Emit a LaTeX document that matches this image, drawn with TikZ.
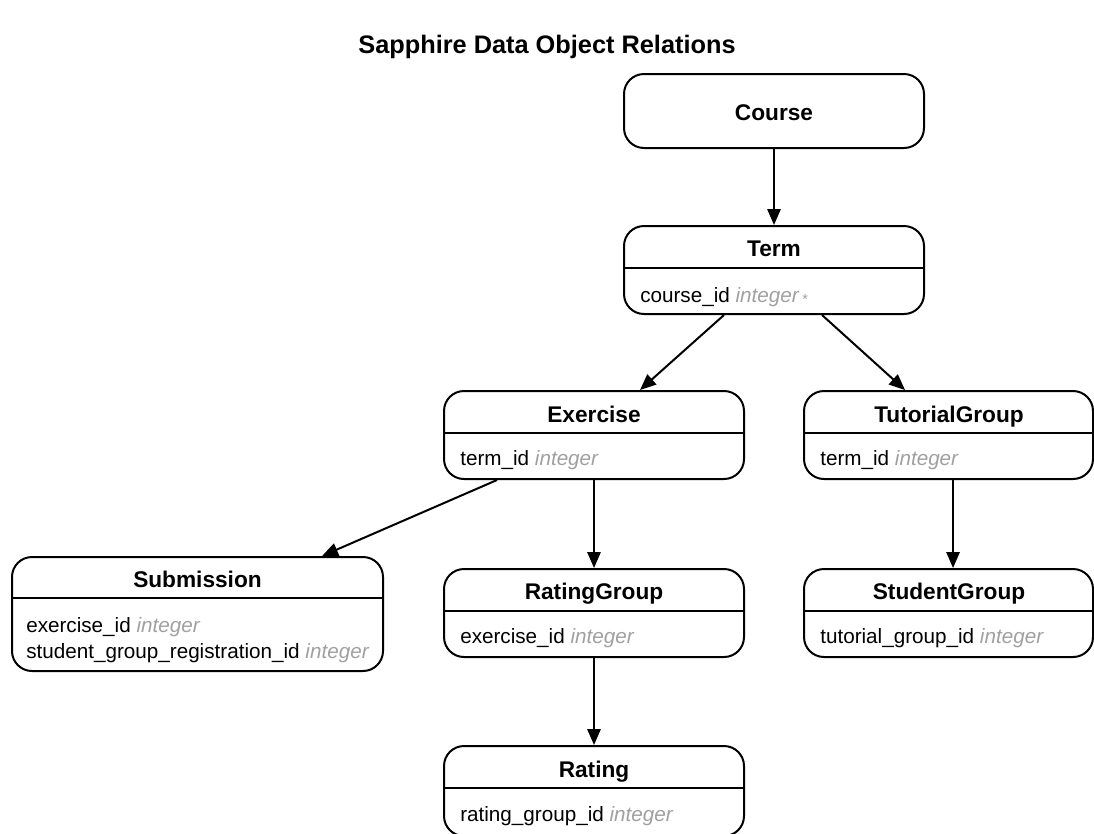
\documentclass[tikz,border=0pt]{standalone}
\usepackage{fontspec}
\setmainfont{Liberation Sans}
\usetikzlibrary{arrows.meta}
\definecolor{typegray}{RGB}{160,160,160}
\newcommand{\dtype}[1]{{\color{typegray}\itshape #1}}
\newcommand{\reqmark}{\,{\color{typegray}\fontsize{11}{11}\selectfont\raisebox{-1.8pt}{*}}}
\tikzset{
  entity/.style={draw, line width=1.5pt, rounded corners=15pt, minimum width=225pt, minimum height=66pt, inner sep=0pt},
  enttitle/.style={anchor=base, inner sep=0pt, font=\bfseries\fontsize{17}{20}\selectfont},
  field/.style={anchor=base west, inner sep=0pt, font=\fontsize{15.5}{18}\selectfont},
  divider/.style={line width=1.5pt},
  link/.style={line width=1.5pt, -{Triangle[length=12pt,width=10pt]}}
}
\begin{document}
\begin{tikzpicture}[x=0.75pt,y=-0.75pt]
\useasboundingbox (0,0) rectangle (1094,833);
\clip (0,0) rectangle (1094,833);

\node[inner sep=0pt, font=\bfseries\fontsize{19}{24}\selectfont] (heading) at (547,47) {Sapphire Data Object Relations};

\node[entity, minimum height=55.5pt] (course) at (774,111) {};
\node[inner sep=0pt, font=\bfseries\fontsize{17}{20}\selectfont] (course-t) at (774,113) {Course};

\node[entity] (term) at (774,270) {};
\node[enttitle] (term-t) at (774,256) {Term};
\draw[divider] (624,268) -- (924,268);
\node[field] (term-f1) at (640,302) {course\_id \dtype{integer}\reqmark};

\node[entity] (exercise) at (594,435) {};
\node[enttitle] (exercise-t) at (594,422) {Exercise};
\draw[divider] (444,433) -- (744,433);
\node[field] (exercise-f1) at (460,465) {term\_id \dtype{integer}};

\node[entity, minimum width=216.75pt] (tutorialgroup) at (948.5,435) {};
\node[enttitle] (tutorialgroup-t) at (949,422) {TutorialGroup};
\draw[divider] (804,433) -- (1093,433);
\node[field] (tutorialgroup-f1) at (820,465) {term\_id \dtype{integer}};

\node[entity, minimum width=278.25pt, minimum height=85.5pt] (submission) at (197.5,614) {};
\node[enttitle] (submission-t) at (197.5,587) {Submission};
\draw[divider] (12,598) -- (383,598);
\node[field] (submission-f1) at (26,632) {exercise\_id \dtype{integer}};
\node[field] (submission-f2) at (26,658) {student\_group\_registration\_id \dtype{integer}};

\node[entity] (ratinggroup) at (594,613) {};
\node[enttitle] (ratinggroup-t) at (594,599) {RatingGroup};
\draw[divider] (444,611) -- (744,611);
\node[field] (ratinggroup-f1) at (460,643) {exercise\_id \dtype{integer}};

\node[entity, minimum width=216.75pt] (studentgroup) at (948.5,613) {};
\node[enttitle] (studentgroup-t) at (949,599) {StudentGroup};
\draw[divider] (804,611) -- (1093,611);
\node[field] (studentgroup-f1) at (820,643) {tutorial\_group\_id \dtype{integer}};

\node[entity, minimum height=67.5pt] (rating) at (594,791) {};
\node[enttitle] (rating-t) at (594,777) {Rating};
\draw[divider] (444,788) -- (744,788);
\node[field] (rating-f1) at (460,821) {rating\_group\_id \dtype{integer}};

\draw[link] (course) -- (term);
\draw[link] ([xshift=-37.5pt]term.south) -- ([xshift=34.5pt]exercise.north);
\draw[link] ([xshift=36pt]term.south) -- ([xshift=-32.6pt]tutorialgroup.north);
\draw[link] ([xshift=-72.75pt]exercise.south) -- ([xshift=93.4pt]submission.north);
\draw[link] (exercise) -- (ratinggroup);
\draw[link] ([xshift=3.4pt]tutorialgroup.south) -- ([xshift=3.4pt]studentgroup.north);
\draw[link] (ratinggroup) -- (rating);
\end{tikzpicture}
\end{document}
